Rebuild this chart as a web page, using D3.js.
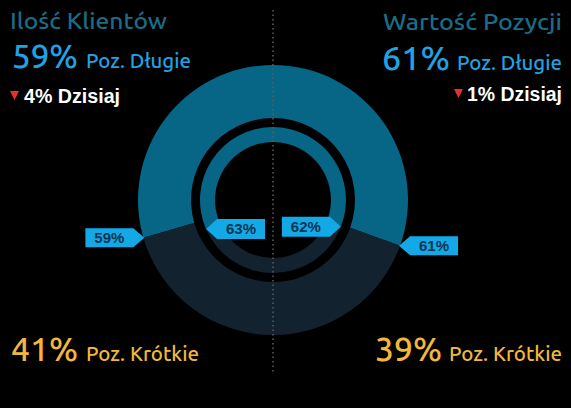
<!DOCTYPE html>
<html>
<head>
<meta charset="utf-8">
<script src="https://cdn.jsdelivr.net/npm/d3@7"></script>
<style>
  html, body { margin: 0; padding: 0; background: #000; }
  svg { display: block; }
</style>
</head>
<body>
<svg id="chart" width="571" height="408"></svg>
<script>
// data
const titles = ["Ilość Klientów", "Wartość Pozycji"];
const longPct = [59, 61];      // outer ring, Poz. Długie
const shortPct = [41, 39];     // outer ring, Poz. Krótkie
const innerLongPct = [63, 62]; // inner ring
const todayChange = [4, 1];    // ▼ x% Dzisiaj

const W = 571, H = 408;
const cx = 273, cy = 200;
const outerR = 135, outerIn = 82;
const innerR = 73, innerIn = 58;

const svg = d3.select("#chart");
svg.append("rect").attr("width", W).attr("height", H).attr("fill", "#000");

const defs = svg.append("defs");
const grad = defs.append("linearGradient")
  .attr("id", "blueGrad")
  .attr("gradientUnits", "userSpaceOnUse")
  .attr("x1", 0).attr("y1", cy - outerR)
  .attr("x2", 0).attr("y2", cy + 25);
grad.append("stop").attr("offset", "0%").attr("stop-color", "#076586");
grad.append("stop").attr("offset", "100%").attr("stop-color", "#0a98d5");

const navy = "#13222f";
const tagColor = "#13a8e6";

const g = svg.append("g").attr("transform", `translate(${cx},${cy})`);

// punkt na okręgu dla kąta
function pt(a, r) {
  return [r * Math.sin(a), -r * Math.cos(a)];
}

// tag label, tip at (tx,ty), dir = -1 box to the left, +1 to the right
function tag(tx, ty, dir, text, h) {
  const boxW = 48, tipW = 11;
  const x0 = tx + dir * tipW, x1 = x0 + dir * boxW;
  const pts = [
    [tx, ty], [x0, ty - h / 2], [x1, ty - h / 2], [x1, ty + h / 2], [x0, ty + h / 2]
  ];
  g.append("path")
    .attr("d", d3.line()(pts) + "Z")
    .attr("fill", tagColor);
  g.append("text")
    .attr("x", (x0 + x1) / 2)
    .attr("y", ty + 5.5)
    .attr("text-anchor", "middle")
    .attr("font-family", "Liberation Sans, Arial, sans-serif")
    .attr("font-weight", "bold")
    .attr("font-size", 15)
    .attr("fill", "#0c3550")
    .text(text + "%");
}

[0, 1].forEach((i) => {
  const sign = i === 0 ? -1 : 1;
  const pie = d3.pie().sort(null).value((d) => d)
    .startAngle(0).endAngle(sign * Math.PI);

  const outer = pie([longPct[i], shortPct[i]]);
  const arcO = d3.arc().innerRadius(outerIn).outerRadius(outerR);
  g.selectAll(null).data(outer).join("path")
    .attr("d", arcO)
    .attr("fill", (d, j) => (j === 0 ? "url(#blueGrad)" : navy));

  const inner = pie([innerLongPct[i], 100 - innerLongPct[i]]);
  const arcI = d3.arc().innerRadius(innerIn).outerRadius(innerR);
  g.selectAll(null).data(inner).join("path")
    .attr("d", arcI)
    .attr("fill", (d, j) => (j === 0 ? "url(#blueGrad)" : navy));

  // outer tag, outside the ring
  const po = pt(outer[0].endAngle, outerR);
  tag(po[0] - sign * 1, po[1], sign, longPct[i], 19);
  // inner tag, inside the hole
  const pi = pt(inner[0].endAngle, innerR);
  tag(pi[0], pi[1], -sign, innerLongPct[i], 20);
});

// dotted separator
svg.append("line")
  .attr("x1", cx).attr("x2", cx)
  .attr("y1", 10).attr("y2", 372)
  .attr("stroke", "#5e5e5e")
  .attr("stroke-width", 1.5)
  .attr("stroke-dasharray", "1.5,3");

const font = "Ubuntu, 'Open Sans', 'Noto Sans', sans-serif";

function label(x, y, size, color, width, str, opts = {}) {
  return svg.append("text")
    .attr("x", x).attr("y", y)
    .attr("font-family", opts.family || font)
    .attr("font-weight", opts.weight || 500)
    .attr("font-size", size)
    .attr("fill", color)
    .attr("textLength", width)
    .attr("lengthAdjust", "spacingAndGlyphs")
    .text(str);
}

// [left, right] text layout, x ranges
const layout = [
  { title: [10, 157, 29], big: [12, 66, 68], small: [86, 105],
    today: [24, 96, 103], tri: 10, bot: [11, 67, 361], botS: [86, 113] },
  { title: [383, 179, 30], big: [382, 68, 70], small: [457, 105],
    today: [467, 95, 101], tri: 454, bot: [375, 67, 361], botS: [449, 113] }
];

[0, 1].forEach((i) => {
  const L = layout[i];
  const blue = "#22a2e2", gold = "#f1b93c";

  label(L.title[0], L.title[2], 22, "#1b6c84", L.title[1], titles[i]);

  label(L.big[0], L.big[2], 33, blue, L.big[1], longPct[i] + "%");
  label(L.small[0], L.big[2], 21, blue, L.small[1], "Poz. Długie");

  label(L.today[0], L.today[2], 20, "#fff", L.today[1], todayChange[i] + "% Dzisiaj",
    { family: "Liberation Sans, Arial, sans-serif", weight: "bold" });
  const ty = L.today[2] - 12;
  svg.append("path")
    .attr("d", `M${L.tri},${ty}L${L.tri + 9},${ty}L${L.tri + 4.5},${ty + 9}Z`)
    .attr("fill", "#e8302c");

  label(L.bot[0], L.bot[2], 33, gold, L.bot[1], shortPct[i] + "%");
  label(L.botS[0], L.bot[2], 21, gold, L.botS[1], "Poz. Krótkie");
});
</script>
</body>
</html>
